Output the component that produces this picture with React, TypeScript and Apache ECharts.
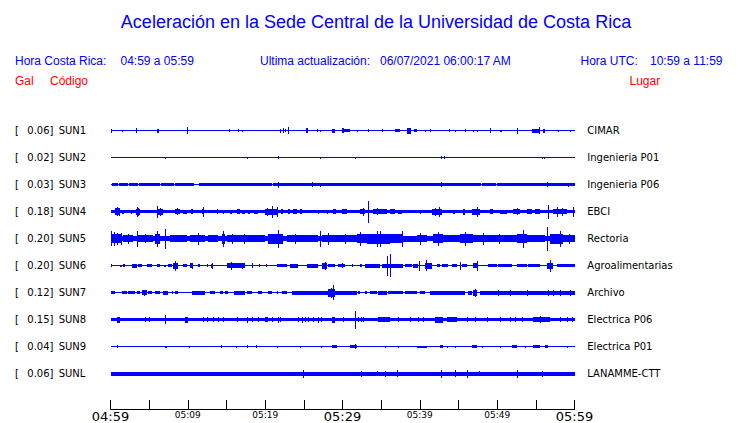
import React, { useEffect, useRef } from 'react';
import * as echarts from 'echarts';

const titleText = 'Aceleración en la Sede Central de la Universidad de Costa Rica';
const localLabel = 'Hora Costa Rica:';
const localTime = '04:59 a 05:59';
const updatedLabel = 'Ultima actualización:';
const updated = '06/07/2021 06:00:17 AM';
const utcLabel = 'Hora UTC:';
const utcTime = '10:59 a 11:59';

const timeLabels = ['04:59', '05:09', '05:19', '05:29', '05:39', '05:49', '05:59'];
const majorLabels = ['04:59', '05:29', '05:59'];

const codes = ['SUN1', 'SUN2', 'SUN3', 'SUN4', 'SUN5', 'SUN6', 'SUN7', 'SUN8', 'SUN9', 'SUNL'];
const peaks = ['0.06', '0.02', '0.03', '0.18', '0.20', '0.20', '0.12', '0.15', '0.04', '0.06'];
const places = ['CIMAR', 'Ingenieria P01', 'Ingenieria P06', 'EBCI', 'Rectoria', 'Agroalimentarias', 'Archivo', 'Electrica P06', 'Electrica P01', 'LANAMME-CTT'];
// background noise half-amplitude of each trace
const baseNoise = [0.5, 0.5, 0.5, 1.7, 2.6, 0.5, 0.5, 1.7, 0.5, 2];

// events: [minute, halfAmp] = spike, [minuteStart, minuteEnd, halfAmp] = burst
const sun1 = [[0.06, 2], [1.45, 1], [3.26, 2.7], [6.05, 6.31, 2], [9.85, 3.5], [15.36, 1.5], [16.53, 1.5], [17.04, 1], [21.92, 2], [22.31, 2.5], [22.6, 1.5], [22.95, 3.5], [25.32, 25.58, 2.5], [26.66, 1.5], [27.09, 1], [28.67, 29.05, 2], [29.97, 30.23, 2.5], [29.97, 31.0, 1.5], [31.84, 1], [33.26, 1.5], [35.07, 1.5], [36.79, 37.43, 1.2], [38.3, 38.82, 3], [39.22, 39.6, 1.5], [40.67, 1], [41.31, 1.5], [43.81, 1.5], [44.55, 1], [45.84, 1.2], [46.84, 1], [47.35, 1], [49.07, 2.5], [50.37, 50.63, 1], [52.53, 3], [54.5, 55.54, 2], [55.41, 3.5], [55.93, 56.19, 2], [57.9, 1], [59.42, 1]];
const sun2 = [[7.05, 1], [17.61, 1], [21.62, 1.5], [27.09, 1], [31.61, 1], [42.74, 1.5], [43.16, 1.5], [55.76, 1], [56.06, 1]];
const sun3 = [[0.16, 1.03, 1.7], [1.16, 2.26, 1.7], [2.37, 3.56, 1.7], [3.66, 6.34, 1.7], [6.47, 8.15, 1.7], [8.28, 10.84, 1.7], [11.44, 20.82, 1.7], [21.01, 47.91, 1.7], [48.1, 49.85, 1.7], [50.04, 60, 1.7], [21.62, 3], [26.02, 2.5], [27.09, 2], [42.74, 2.3], [56.48, 2.3], [59.2, 2]];
const sun4 = [[0.58, 1.23, 3.2], [0.8, 4.5], [1.1, 4], [1.49, 1.75, 2], [2.65, 2.78, 2], [3.26, 3.81, 3], [3.43, 5], [3.6, 4], [5.97, 6.83, 3], [6.05, 6], [6.4, 4], [8.34, 8.99, 2.7], [8.6, 3.5], [9.37, 9.89, 2], [10.41, 10.67, 2.5], [11.79, 12.09, 2.5], [11.96, 5], [13.73, 13.94, 2.3], [14.59, 2], [15.45, 15.67, 2], [16.32, 16.75, 2.3], [17.04, 17.39, 2], [17.82, 18.04, 2], [18.59, 19.11, 2], [19.98, 21.7, 3], [20.3, 4], [20.84, 6], [21.49, 5], [22.05, 22.34, 2.7], [22.91, 23.21, 2.3], [23.64, 24.08, 2.3], [24.5, 24.8, 2.7], [26.87, 2], [27.96, 2], [28.81, 29.12, 2.7], [29.97, 30.54, 2.3], [32.26, 32.91, 2.7], [32.6, 4], [33.34, 11], [33.98, 35.72, 2.7], [34.5, 3.5], [36.14, 36.79, 2.3], [37.22, 37.65, 2], [40.02, 2], [41.53, 42.83, 3], [42.0, 4], [42.48, 5], [44.33, 44.55, 2], [45.62, 45.84, 3], [46.71, 47.78, 3], [47.43, 5], [49.07, 49.5, 2.7], [50.37, 51.23, 2], [52.09, 52.96, 2.7], [52.5, 3.5], [53.82, 54.47, 2.3], [54.89, 55.54, 2.7], [56.61, 7], [57.26, 58.99, 2.7], [57.78, 5], [58.4, 4], [59.84, 5]];
const sun5 = [[0, 0.58, 4.2], [0.1, 7.5], [0.4, 7], [0.58, 1.45, 4.2], [0.8, 6], [1.3, 6], [1.62, 2.91, 3.8], [2.2, 5], [3.39, 8], [3.56, 5.5, 3.5], [4.4, 4.5], [5.75, 6.4, 5], [5.97, 8], [7.05, 10], [7.69, 9.21, 3.2], [9.21, 9.85, 3.8], [10.28, 12.22, 3.5], [11.35, 6], [12.65, 13.94, 3.2], [14.38, 14.81, 5], [14.59, 8], [15.03, 16.53, 3.8], [15.7, 5], [16.53, 18.26, 3.8], [17.3, 5], [18.26, 19.98, 3.5], [20.41, 22.34, 5], [21.7, 9], [22.78, 25.15, 3.8], [23.9, 5], [25.15, 26.87, 3.5], [27.09, 8], [27.31, 31.84, 3.8], [28.16, 6], [30.3, 5], [31.84, 33.13, 4.2], [32.26, 7], [33.13, 36.14, 5], [34.42, 8], [34.85, 8], [36.14, 37.86, 4.2], [37.65, 8], [37.86, 39.59, 3], [39.59, 40.89, 3.5], [40.02, 6], [41.74, 43.03, 4.2], [42.39, 7], [43.03, 45.19, 3.8], [45.19, 46.91, 4.5], [45.84, 7], [46.91, 48.65, 3.5], [48.21, 6], [48.65, 52.53, 3.8], [50.2, 5], [52.53, 53.82, 4.2], [53.38, 9], [53.82, 56.18, 3.8], [56.48, 12], [56.83, 58.55, 5], [58.12, 8], [58.55, 60, 3.8], [59.3, 5]];
const sun6 = [[0, 0.16, 1.5], [1.23, 1.45, 1], [1.66, 1.88, 1.5], [2.74, 3.39, 2], [3.59, 4.03, 1.5], [4.68, 5.33, 1.5], [5.97, 6.4, 1.5], [6.96, 7.14, 1], [7.47, 7.91, 1.5], [8.12, 8.69, 3], [8.38, 5], [9.41, 9.85, 1.5], [10.28, 10.71, 2.5], [10.6, 3], [11.28, 11.57, 1.5], [12.44, 12.65, 1.5], [13.0, 13.29, 2], [13.1, 3], [15.03, 17.39, 2.5], [15.58, 4], [16.97, 3], [18.26, 2.5], [19.2, 1.5], [20.11, 1.5], [21.49, 22.78, 1.5], [23.21, 24.28, 2], [25.37, 26.87, 2], [27.31, 27.96, 3], [27.74, 4], [28.16, 29.03, 1.5], [29.46, 30.32, 1.5], [29.97, 2.5], [31.18, 31.32, 1.5], [32.26, 32.48, 1.5], [32.91, 34.85, 2], [35.07, 37.86, 2], [35.72, 10], [36.14, 11.5], [38.08, 38.95, 1.5], [39.16, 39.8, 2], [39.93, 5], [40.67, 41.53, 3], [40.8, 5.5], [42.18, 42.61, 1.5], [42.83, 43.68, 1.5], [44.12, 44.77, 1.5], [45.19, 4], [45.41, 46.06, 1.5], [46.91, 47.56, 2.5], [47.35, 5], [48.85, 49.94, 1.5], [50.15, 51.88, 1.5], [52.53, 53.82, 1.5], [54.02, 55.54, 1.5], [56.4, 57.26, 3], [56.83, 6], [57.7, 60, 1.5]];
const sun7 = [[0, 0.58, 1.5], [1.45, 2.09, 1.5], [2.3, 3.17, 1.5], [3.39, 3.81, 1.5], [4.03, 4.68, 2.5], [4.31, 3], [4.89, 5.33, 1.5], [5.75, 6.4, 1.5], [6.83, 7.47, 2], [7.91, 8.12, 1.5], [8.34, 8.77, 1.5], [10.5, 12.22, 2], [12.87, 13.51, 1.5], [14.16, 14.59, 1.5], [14.81, 15.23, 1.5], [16.01, 17.39, 2], [17.61, 18.26, 1.5], [19.11, 19.55, 1.5], [20.41, 20.84, 1.5], [21.49, 21.7, 1.5], [22.14, 22.78, 1.5], [23.43, 28.16, 2], [28.16, 29.03, 4], [28.73, 7.5], [28.5, 5], [29.03, 31.84, 2], [32.05, 32.26, 1.5], [32.91, 33.13, 1.5], [33.56, 34.42, 1.5], [34.63, 35.72, 2], [35.92, 37.86, 1.5], [38.08, 39.59, 1.5], [40.02, 40.67, 1.5], [41.31, 45.84, 2], [46.27, 46.71, 2], [46.91, 47.35, 3], [47.13, 4], [47.78, 60, 2], [50.15, 3], [51.66, 3], [53.82, 3], [56.61, 3], [57.26, 3], [58.12, 3], [59.42, 3]];
const sun8 = [[0.8, 1.23, 3], [4.46, 2.5], [5.02, 2.5], [7.05, 4.5], [9.63, 10.06, 3], [12.0, 2.5], [12.44, 2.5], [13.29, 2.5], [13.94, 2.5], [14.59, 2.5], [16.32, 2.5], [17.61, 3], [18.26, 2.5], [19.03, 2.5], [19.98, 20.41, 2.5], [20.84, 2.5], [21.62, 3], [21.92, 2.5], [24.28, 2.5], [24.72, 3], [25.15, 2.5], [25.58, 2.5], [26.22, 2.5], [26.87, 3], [27.22, 2.5], [28.6, 29.03, 3], [30.1, 2.5], [31.61, 9], [32.05, 2.5], [32.36, 2.5], [32.69, 2.5], [34.63, 36.14, 2.5], [37.22, 2.5], [38.73, 2.5], [39.8, 2.5], [40.45, 2.5], [41.96, 43.03, 3], [43.47, 44.77, 2.5], [46.06, 2.5], [47.13, 2.5], [48.65, 2.5], [50.37, 2.5], [51.66, 2.5], [52.31, 2.5], [53.17, 2.5], [54.67, 56.83, 2.5], [55.5, 3.5], [58.12, 2.5], [58.99, 2.5], [59.64, 2.5]];
const sun9 = [[0.8, 1.5], [7.05, 7.27, 1], [10.19, 1], [14.29, 14.46, 1.5], [16.23, 1], [17.61, 1.5], [18.81, 1.5], [21.49, 1], [24.5, 1], [27.22, 1], [28.6, 29.25, 1.5], [30.97, 31.84, 1.5], [31.61, 2.5], [35.46, 1], [37.22, 1], [39.59, 40.89, 1], [42.61, 43.03, 1.5], [43.47, 1], [44.55, 1], [46.71, 47.35, 1.3], [48.0, 1], [50.37, 1], [51.88, 52.53, 1.3], [53.6, 1], [54.67, 55.54, 1.5], [56.18, 56.61, 1.5], [58.99, 1]];
const sunl = [[24.93, 4], [32.36, 3], [34.5, 2.5], [35.49, 3], [37.09, 3.5], [42.74, 4], [44.55, 3.5], [46.06, 4], [47.69, 2.5], [52.53, 4], [55.76, 3]];

const traces = [sun1, sun2, sun3, sun4, sun5, sun6, sun7, sun8, sun9, sunl];
const ROW = 27; // data units per trace row on the hidden value axis

const BLUE = '#0000ff';
const RED = '#ff0000';
const HEAD_FONT = '12px "Liberation Sans", Arial, sans-serif';
const LABEL_FONT = '"DejaVu Sans", sans-serif';

function buildData() {
  const out: number[][] = [];
  traces.forEach((tr, i) => {
    out.push([0, 60, baseNoise[i], i]);
    tr.forEach((ev) => {
      if (ev.length === 2) out.push([ev[0], ev[0], ev[1], i]);
      else out.push([ev[0], ev[1], ev[2], i]);
    });
  });
  return out;
}

function txt(text: string, x: number, y: number, font: string, fill: string, align = 'left') {
  return {
    type: 'text',
    x,
    y,
    silent: true,
    style: { text, font, fill, align, textAlign: align, verticalAlign: 'middle', textVerticalAlign: 'middle' },
  };
}

export default function App() {
  const ref = useRef<HTMLDivElement>(null);
  useEffect(() => {
    if (!ref.current) return;
    const chart = echarts.init(ref.current, undefined, { renderer: 'svg' });
    const option: any = {
      animation: false,
      backgroundColor: '#ffffff',
      grid: { left: 110.5, top: 117, width: 464, height: 270 },
      xAxis: {
        type: 'value',
        min: 0,
        max: 60,
        interval: 5,
        position: 'bottom',
        offset: 22,
        axisLine: { show: true, onZero: false, lineStyle: { color: '#000', width: 1 } },
        axisTick: { show: true, inside: true, length: 9, lineStyle: { color: '#000', width: 1 } },
        splitLine: { show: false },
        axisLabel: {
          margin: 1,
          formatter: (v: number) => {
            if (v % 10 !== 0) return '';
            const lab = timeLabels[v / 10];
            return majorLabels.includes(lab) ? `{big|${lab}}` : `{small|${lab}}`;
          },
          rich: {
            big: { fontFamily: LABEL_FONT, fontSize: 13, color: '#000' },
            small: { fontFamily: LABEL_FONT, fontSize: 9, color: '#000' },
          },
        },
      },
      yAxis: [
        { type: 'value', min: 0, max: ROW * traces.length, inverse: true, show: false },
        {
          type: 'category',
          data: codes,
          inverse: true,
          position: 'left',
          axisLine: { show: false },
          axisTick: { show: false },
          splitLine: { show: false },
          axisLabel: {
            interval: 0,
            align: 'left',
            margin: 95.5,
            formatter: (val: string, idx: number) => `{br|[}{pk|${peaks[idx]}]}{cd|${val}}`,
            rich: {
              br: { width: 12.3, fontFamily: LABEL_FONT, fontSize: 10, color: '#000' },
              pk: { width: 31.4, fontFamily: LABEL_FONT, fontSize: 10, color: '#000' },
              cd: { fontFamily: LABEL_FONT, fontSize: 10, color: '#000' },
            },
          },
        },
        {
          type: 'category',
          data: places,
          inverse: true,
          position: 'right',
          axisLine: { show: false },
          axisTick: { show: false },
          splitLine: { show: false },
          axisLabel: { interval: 0, align: 'left', margin: 12.8, fontFamily: LABEL_FONT, fontSize: 10, color: '#000' },
        },
      ],
      series: [
        {
          type: 'custom',
          xAxisIndex: 0,
          yAxisIndex: 0,
          silent: true,
          clip: false,
          encode: { x: [0, 1], y: 3 },
          data: buildData(),
          renderItem: (_p: any, api: any) => {
            const t0 = api.value(0);
            const t1 = api.value(1);
            const amp = api.value(2);
            const row = api.value(3);
            const mid = ROW * (row + 0.5);
            const a = api.coord([t0, mid - amp]);
            const b = api.coord([t1, mid + amp]);
            const x0 = Math.round(Math.min(a[0], b[0]));
            let x1 = Math.round(Math.max(a[0], b[0]));
            if (x1 - x0 < 1) x1 = x0 + 1;
            const y0 = Math.round(Math.min(a[1], b[1]));
            let y1 = Math.round(Math.max(a[1], b[1]));
            if (y1 - y0 < 1) y1 = y0 + 1;
            return {
              type: 'rect',
              shape: { x: x0, y: y0, width: x1 - x0, height: y1 - y0 },
              style: { fill: BLUE },
            };
          },
        },
      ],
      graphic: [
        txt(titleText, 376, 22, '18px "Liberation Sans", Arial, sans-serif', BLUE, 'center'),
        txt(localLabel, 15, 61, HEAD_FONT, BLUE),
        txt(localTime, 120.5, 61, HEAD_FONT, BLUE),
        txt(updatedLabel, 260, 61, HEAD_FONT, BLUE),
        txt(updated, 380, 61, HEAD_FONT, BLUE),
        txt(utcLabel, 580.5, 61, HEAD_FONT, BLUE),
        txt(utcTime, 650, 61, HEAD_FONT, BLUE),
        txt('Gal', 15, 80.5, HEAD_FONT, RED),
        txt('Código', 50, 80.5, HEAD_FONT, RED),
        txt('Lugar', 629.5, 80.5, HEAD_FONT, RED),
      ],
    };
    chart.setOption(option);
    return () => chart.dispose();
  }, []);
  return (
    <div
      ref={ref}
      style={{ position: 'fixed', left: 0, top: 0, width: 740, height: 423, background: '#fff' }}
    />
  );
}
